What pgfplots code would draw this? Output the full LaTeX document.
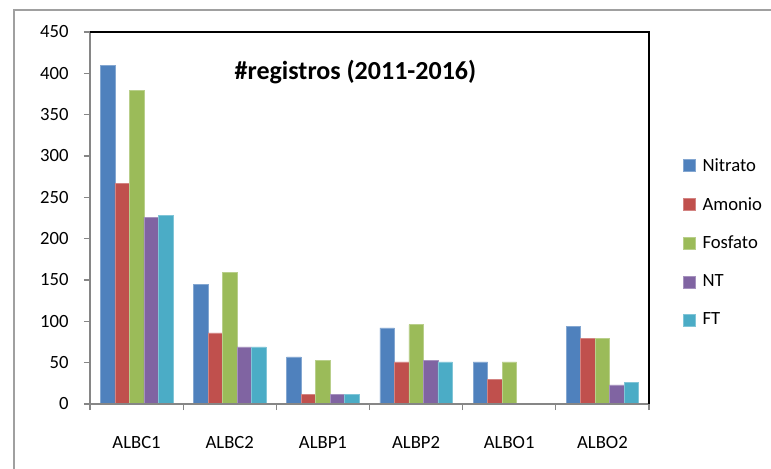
\documentclass[border=0pt]{standalone}
\usepackage{fontspec}
\setmainfont{Carlito}
\usepackage{pgfplots}
\pgfplotsset{compat=1.18}
\definecolor{cN}{HTML}{4F81BD}
\definecolor{cA}{HTML}{C0504D}
\definecolor{cF}{HTML}{9BBB59}
\definecolor{cNT}{HTML}{8064A2}
\definecolor{cFT}{HTML}{4BACC6}
\definecolor{axgray}{HTML}{868686}
\definecolor{framegray}{HTML}{A0A0A0}
\begin{document}
\begin{tikzpicture}
\useasboundingbox (0pt,0pt) rectangle (578.25pt,351pt);
\draw[framegray, line width=1.1pt] (10.5pt,-2pt) -- (10.5pt,343.5pt) -- (582pt,343.5pt);
\begin{axis}[
  at={(67.5pt,48pt)}, anchor=south west,
  scale only axis, width=419.25pt, height=279pt,
  ybar=0pt, bar width=10.875pt,
  xmin=-0.5, xmax=5.5, ymin=0, ymax=450,
  xtick={0,1,2,3,4,5},
  xticklabels={ALBC1,ALBC2,ALBP1,ALBP2,ALBO1,ALBO2},
  minor xtick={-0.5,0.5,1.5,2.5,3.5,4.5,5.5},
  ytick={0,50,...,450},
  tick pos=left,
  tick align=outside,
  major tick length=4.5pt, minor tick length=4.5pt,
  x tick style={draw=none},
  minor x tick style={draw=axgray, line width=0.9pt},
  y tick style={draw=axgray, line width=0.9pt},
  axis line style={draw=none},
  tick label style={font=\fontsize{14}{16}\selectfont},
  xticklabel style={yshift=-16pt},
  yticklabel style={xshift=-8pt},
  /pgf/number format/assume math mode=true,
  legend style={at={(1.061,0.434)}, anchor=west, draw=none, fill=none,
    inner sep=0pt, row sep=14pt, font=\fontsize{14}{16}\selectfont,
    /tikz/every odd column/.append style={column sep=3pt}},
  legend cell align=left,
  legend image code/.code={\fill[#1] (0pt,-4.5pt) rectangle (9pt,4.5pt);},
  clip=false,
]
\addplot[fill=cN, draw=cN!70!white, line width=0.4pt] coordinates {(0,410) (1,145) (2,57) (3,92) (4,51) (5,94)};
\addplot[fill=cA, draw=cA!70!white, line width=0.4pt] coordinates {(0,267) (1,86) (2,12) (3,51) (4,30) (5,79)};
\addplot[fill=cF, draw=cF!70!white, line width=0.4pt] coordinates {(0,379) (1,159) (2,53) (3,96) (4,51) (5,79)};
\addplot[fill=cNT, draw=cNT!70!white, line width=0.4pt] coordinates {(0,226) (1,69) (2,12) (3,53) (4,0) (5,23)};
\addplot[fill=cFT, draw=cFT!70!white, line width=0.4pt] coordinates {(0,228) (1,69) (2,12) (3,51) (4,0) (5,26)};
\legend{Nitrato,Amonio,Fosfato,NT,FT}
\draw[axgray, line width=1.1pt] (rel axis cs:0,1) -- (rel axis cs:0,0) -- (rel axis cs:1,0);
\draw[black, line width=1.1pt] (rel axis cs:0,1) -- (rel axis cs:1,1) -- (rel axis cs:1,0);
\end{axis}
\node[font=\bfseries\fontsize{19.5}{22}\selectfont] at (266.6pt,297pt) {\#registros (2011-2016)};
\end{tikzpicture}
\end{document}
